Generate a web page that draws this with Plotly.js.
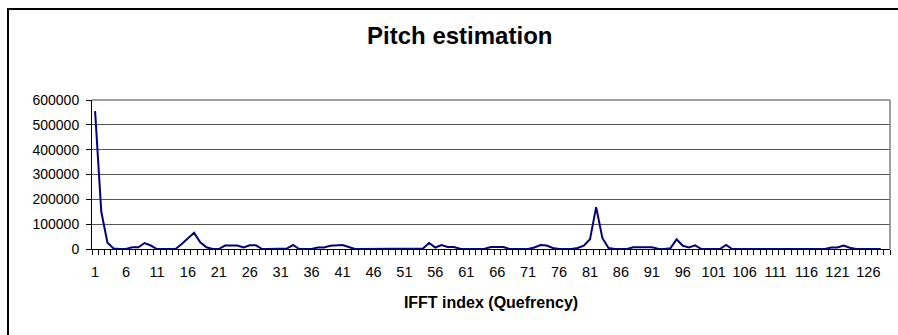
<!DOCTYPE html>
<html>
<head>
<meta charset="utf-8">
<script src="https://cdn.plot.ly/plotly-3.0.1.min.js"></script>
<style>
  html, body { margin: 0; padding: 0; background: #ffffff; overflow: hidden; }
  #chart { position: absolute; left: 0; top: 0; width: 898px; height: 335px; }
  #frame { position: absolute; left: 7px; top: 8px; width: 900px; height: 340px;
           border-top: 2px solid #000; border-left: 2px solid #000; pointer-events: none; }
</style>
</head>
<body>
<div id="chart"></div>
<div id="frame"></div>
<script>
// Cepstrum magnitude per IFFT index (1..128)
const pitchValues = [
  555000, 150000, 25000, 2000, 0, 0, 7000, 7000, 24000, 14000,
  0, 0, 0, 0, 20000, 43000, 65000, 27000, 7000, 0,
  0, 14000, 14000, 14000, 6000, 15000, 15000, 0, 0, 0,
  0, 2000, 16000, 0, 0, 0, 6000, 6000, 13000, 16000,
  16000, 8000, 0, 0, 0, 0, 0, 0, 0, 0,
  0, 0, 0, 2000, 24000, 6000, 16000, 8000, 8000, 1000,
  0, 0, 0, 1000, 8000, 8000, 8000, 0, 0, 0,
  0, 6000, 16000, 14000, 4000, 0, 0, 0, 4000, 13500,
  39000, 168500, 44500, 4000, 0, 0, 0, 7000, 7000, 7000,
  7000, 1000, 0, 3000, 39000, 13000, 6000, 15000, 0, 0,
  0, 0, 16000, 0, 0, 0, 0, 0, 0, 0,
  0, 0, 0, 0, 0, 0, 0, 0, 0, 6000,
  6000, 14000, 5000, 0, 0, 0, 0, 0
];
const ifftIndex = pitchValues.map((_, i) => i + 1);
const xTickLabels = [1, 6, 11, 16, 21, 26, 31, 36, 41, 46, 51, 56, 61, 66, 71, 76, 81, 86, 91, 96, 101, 106, 111, 116, 121, 126];
const yTickValues = [0, 100000, 200000, 300000, 400000, 500000, 600000];

const chartTitle = "Pitch estimation";
const xTitle = "IFFT index (Quefrency)";

const trace = {
  x: ifftIndex,
  y: pitchValues,
  type: "scatter",
  mode: "lines",
  line: { color: "#000080", width: 2 },
  hoverinfo: "x+y"
};

const layout = {
  width: 898,
  height: 335,
  margin: { l: 92, r: 8, t: 100, b: 86 },
  paper_bgcolor: "#ffffff",
  plot_bgcolor: "#ffffff",
  showlegend: false,
  font: { family: "Liberation Sans, Arial, sans-serif", size: 14, color: "#000" },
  title: {
    text: chartTitle,
    font: { family: "Liberation Sans, Arial, sans-serif", size: 24, weight: "bold", color: "#000" },
    x: 0.512, xref: "container", xanchor: "center",
    y: 0.893, yref: "container", yanchor: "middle"
  },
  xaxis: {
    type: "linear",
    range: [0.5, 129.5],
    tickvals: xTickLabels,
    ticktext: xTickLabels.map(String),
    tickfont: { size: 14.5 },
    ticks: "",
    ticklabelstandoff: 10,
    showgrid: false,
    zeroline: false,
    showline: true,
    linecolor: "#000",
    linewidth: 1,
    minor: { tick0: 0.5, dtick: 1, ticks: "outside", ticklen: 5, tickcolor: "#000", tickwidth: 1, showgrid: false },
    title: {
      text: xTitle,
      font: { family: "Liberation Sans, Arial, sans-serif", size: 16, weight: "bold", color: "#000" },
      standoff: 17
    },
    fixedrange: true
  },
  yaxis: {
    range: [0, 600000],
    tickvals: yTickValues,
    tickformat: "d",
    tickfont: { size: 14 },
    ticks: "outside",
    ticklen: 5,
    tickcolor: "#000",
    ticklabelstandoff: 4,
    showgrid: true,
    gridcolor: "#555555",
    gridwidth: 1,
    zeroline: false,
    showline: true,
    linecolor: "#000",
    linewidth: 1,
    fixedrange: true
  },
  shapes: [
    { type: "line", xref: "paper", yref: "paper", x0: 1, x1: 1, y0: 0, y1: 1,
      line: { color: "#808080", width: 1.5 } },
    { type: "line", xref: "paper", yref: "paper", x0: 0, x1: 1, y0: 1, y1: 1,
      line: { color: "#808080", width: 1.5 } }
  ]
};

Plotly.newPlot("chart", [trace], layout, { displayModeBar: false, staticPlot: true });
</script>
</body>
</html>
